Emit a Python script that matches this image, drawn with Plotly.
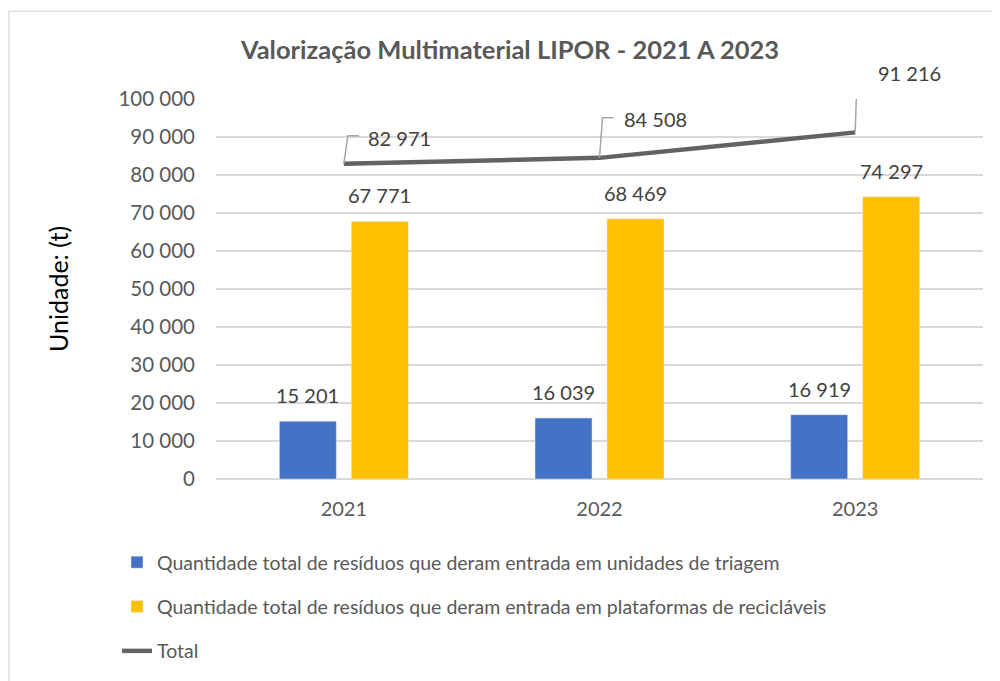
import plotly.graph_objects as go

# ---- data ----
years = ["2021", "2022", "2023"]
triagem = [15201, 16039, 16919]
plataformas = [67771, 68469, 74297]
total = [82971, 84508, 91216]

name_triagem = "Quantidade total de resíduos que deram entrada em unidades de triagem"
name_plataformas = "Quantidade total de resíduos que deram entrada em plataformas de recicláveis"
name_total = "Total"
title_text = "Valorização Multimaterial LIPOR - 2021 A 2023"
y_title = "Unidade: (t)"
y_ticks = [0, 10000, 20000, 30000, 40000, 50000, 60000, 70000, 80000, 90000, 100000]

# ---- style ----
FONT = "Lato"
TXT = "#595959"
LBL = "#404040"
BLUE = "#4472C4"
YELLOW = "#FFC000"
LINE = "#636363"
GRID = "#D9D9D9"
W, H = 1000, 681
PAGE = 8  # page body offset in the browser

# label offsets (pixels) for total labels, and leader line elbows
total_label_shift = [(56, 26), (56, 39), (54, 59)]
leader_elbow = [(4, 28), (3, 40), (2, 60)]


def fmt(v):
    return f"{v:,}".replace(",", " ")


fig = go.Figure()
fig.add_trace(go.Bar(x=years, y=triagem, name=name_triagem, marker_color=BLUE,
                     legendgroup="a"))
fig.add_trace(go.Bar(x=years, y=plataformas, name=name_plataformas, marker_color=YELLOW,
                     legendgroup="b"))
fig.add_trace(go.Scatter(x=years, y=total, name=name_total, mode="lines",
                         line=dict(color=LINE, width=4.5), legendgroup="c"))

annotations = []
shapes = []
bar_offset = 36
for i, yr in enumerate(years):
    annotations.append(dict(x=i, y=triagem[i], text=fmt(triagem[i]), showarrow=False,
                            xshift=-bar_offset, yanchor="bottom", yshift=12,
                            font=dict(family=FONT, size=20, color=LBL)))
    annotations.append(dict(x=i, y=plataformas[i], text=fmt(plataformas[i]), showarrow=False,
                            xshift=bar_offset, yanchor="bottom", yshift=12,
                            font=dict(family=FONT, size=20, color=LBL)))
    dx, dy = total_label_shift[i]
    annotations.append(dict(x=i, y=total[i], text=fmt(total[i]), showarrow=False,
                            xshift=dx, yshift=dy, yanchor="middle",
                            font=dict(family=FONT, size=20, color=LBL)))
    ex, ey = leader_elbow[i]
    shapes.append(dict(type="path", xref="x", yref="y", xsizemode="pixel", ysizemode="pixel",
                       xanchor=i, yanchor=total[i],
                       path=f"M0,0 L{ex},{ey} L{ex + 11},{ey}",
                       line=dict(color="#A6A6A6", width=1.5)))

# y-axis title
annotations.append(dict(xref="paper", yref="paper", x=-0.206, y=0.50, text=y_title,
                        textangle=-90, showarrow=False, xanchor="center", yanchor="middle",
                        font=dict(family=FONT, size=25, color="black")))

# chart border
shapes.append(dict(type="rect", xref="paper", yref="paper",
                   x0=-0.270, x1=1.03, y0=-0.56, y1=1.2308,
                   line=dict(color=GRID, width=1.2), fillcolor="rgba(0,0,0,0)", layer="below"))

plot_left, plot_right, plot_top, plot_bottom = 216 - PAGE, 983 - PAGE, 99 - PAGE, 479 - PAGE

fig.update_layout(
    width=W, height=H,
    margin=dict(l=plot_left, r=W - plot_right, t=plot_top, b=H - plot_bottom, autoexpand=False),
    paper_bgcolor="white", plot_bgcolor="white",
    separators=", ",
    font=dict(family=FONT, size=20, color=TXT),
    title=dict(text=f"<b>{title_text}</b>", x=(510 - PAGE) / W, xanchor="center",
               y=1 - (50 - PAGE) / H, yanchor="middle",
               font=dict(family=FONT, size=25.5, color=TXT)),
    barmode="group", bargap=0.437, bargroupgap=0.208,
    showlegend=True,
    legend=dict(xref="container", yref="container", x=(117 - PAGE) / W, y=1 - (543 - PAGE) / H,
                xanchor="left", yanchor="top", orientation="v",
                traceorder="grouped", tracegroupgap=16,
                font=dict(family=FONT, size=19.5, color=TXT), bgcolor="rgba(0,0,0,0)"),
    annotations=annotations,
    shapes=shapes,
)
fig.update_xaxes(type="category", showgrid=False, showline=False, ticks="", ticklabelstandoff=16,
                 tickfont=dict(family=FONT, size=20, color=TXT))
fig.update_yaxes(range=[0, 100000], tickvals=y_ticks, tickformat=",d",
                 showgrid=True, gridcolor=GRID, gridwidth=1.5,
                 zeroline=True, zerolinecolor=GRID, zerolinewidth=1.5,
                 showline=False, ticks="", ticklabelstandoff=20,
                 tickfont=dict(family=FONT, size=20.5, color=TXT))

fig.write_html("out.html")
